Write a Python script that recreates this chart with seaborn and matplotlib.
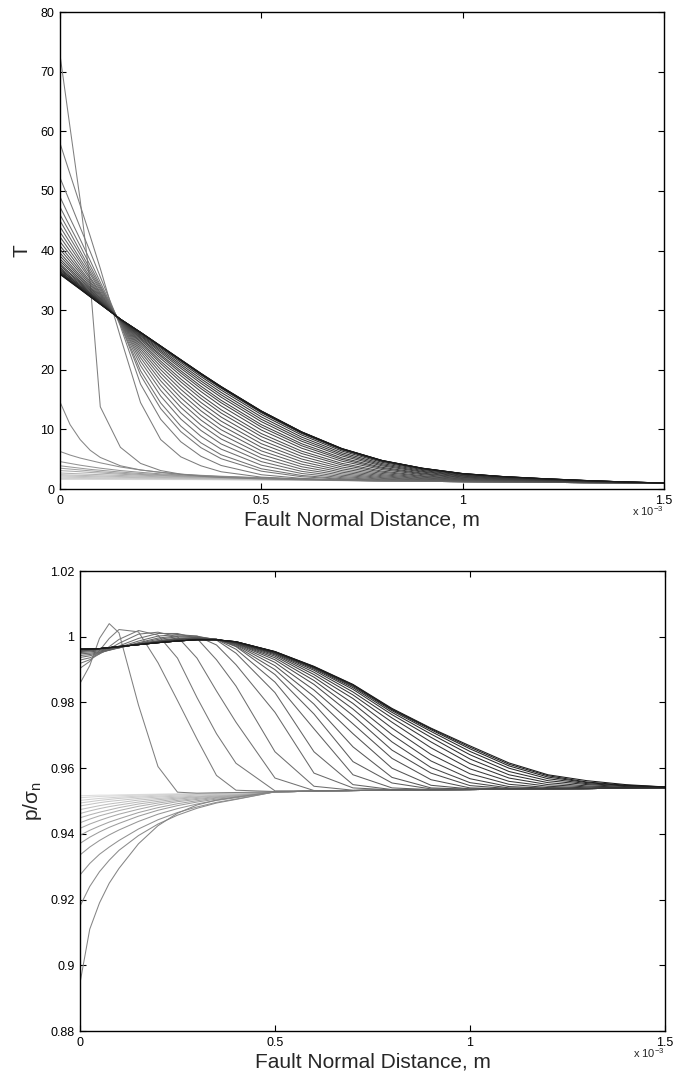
import matplotlib
matplotlib.use("Agg")
import matplotlib.pyplot as plt
import numpy as np
import pandas as pd
import seaborn as sns
from matplotlib.ticker import FuncFormatter

# fault normal distance, in units of 1e-3 m (shared by every profile)
dist = [0, 0.025, 0.05, 0.075, 0.1, 0.15, 0.2, 0.25, 0.3, 0.35, 0.4,
        0.5, 0.6, 0.7, 0.8, 0.9, 1.0, 1.1, 1.2, 1.3, 1.4, 1.5]

# temperature profiles before the runaway (lightest first)
temp_early = [
    [1.6, 1.6, 1.6, 1.6, 1.6, 1.6, 1.59, 1.59, 1.58, 1.57, 1.56, 1.52, 1.47, 1.42, 1.36, 1.3, 1.24, 1.18, 1.13, 1.08, 1.04, 1.0],
    [1.7, 1.7, 1.69, 1.69, 1.68, 1.67, 1.65, 1.64, 1.62, 1.6, 1.58, 1.54, 1.48, 1.42, 1.36, 1.3, 1.24, 1.18, 1.13, 1.08, 1.04, 1.0],
    [1.8, 1.79, 1.78, 1.77, 1.76, 1.73, 1.71, 1.68, 1.66, 1.63, 1.61, 1.56, 1.49, 1.42, 1.36, 1.3, 1.24, 1.18, 1.13, 1.08, 1.04, 1.0],
    [2.0, 1.97, 1.94, 1.91, 1.88, 1.84, 1.8, 1.76, 1.72, 1.68, 1.65, 1.59, 1.51, 1.43, 1.36, 1.3, 1.24, 1.18, 1.13, 1.08, 1.04, 1.0],
    [2.2, 2.16, 2.12, 2.08, 2.04, 1.97, 1.91, 1.86, 1.8, 1.75, 1.7, 1.63, 1.53, 1.44, 1.36, 1.3, 1.24, 1.18, 1.13, 1.08, 1.04, 1.0],
    [2.4, 2.35, 2.3, 2.25, 2.2, 2.1, 2.02, 1.95, 1.88, 1.82, 1.76, 1.67, 1.55, 1.45, 1.37, 1.3, 1.24, 1.18, 1.13, 1.08, 1.04, 1.0],
    [2.7, 2.62, 2.55, 2.48, 2.41, 2.28, 2.16, 2.06, 1.98, 1.9, 1.83, 1.72, 1.58, 1.46, 1.37, 1.3, 1.24, 1.18, 1.13, 1.08, 1.04, 1.0],
    [3.1, 3.0, 2.9, 2.78, 2.68, 2.48, 2.32, 2.2, 2.08, 1.98, 1.9, 1.76, 1.6, 1.47, 1.37, 1.3, 1.24, 1.18, 1.13, 1.08, 1.04, 1.0],
    [3.5, 3.35, 3.2, 3.05, 2.9, 2.65, 2.45, 2.3, 2.15, 2.05, 1.95, 1.8, 1.62, 1.48, 1.37, 1.3, 1.24, 1.18, 1.13, 1.08, 1.04, 1.0],
    [3.9, 3.7, 3.5, 3.3, 3.15, 2.85, 2.6, 2.4, 2.25, 2.1, 2.0, 1.82, 1.64, 1.49, 1.37, 1.3, 1.24, 1.18, 1.13, 1.08, 1.04, 1.0],
    [4.6, 4.3, 4.0, 3.75, 3.5, 3.1, 2.8, 2.55, 2.35, 2.2, 2.05, 1.85, 1.66, 1.5, 1.37, 1.3, 1.24, 1.18, 1.13, 1.08, 1.04, 1.0],
    [6.3, 5.7, 5.2, 4.8, 4.4, 3.7, 3.2, 2.8, 2.5, 2.3, 2.15, 1.9, 1.68, 1.51, 1.38, 1.3, 1.24, 1.18, 1.13, 1.08, 1.04, 1.0],
    [14.6, 10.8, 8.3, 6.5, 5.3, 3.9, 3.2, 2.8, 2.45, 2.25, 2.08, 1.85, 1.66, 1.5, 1.37, 1.3, 1.24, 1.18, 1.13, 1.08, 1.04, 1.0],
]

# temperature profiles from the peak onwards (darkening with time)
temp_late = [
    [72.8, 60.6, 48.5, 34.5, 13.8, 7.0, 4.3, 3.1, 2.5, 2.15, 1.95, 1.7, 1.56, 1.45, 1.37, 1.3, 1.24, 1.18, 1.13, 1.08, 1.04, 1.0],
    [58.0, 52.8, 47.6, 42.4, 37.0, 25.5, 14.5, 8.3, 5.4, 3.9, 2.9, 2.0, 1.68, 1.5, 1.39, 1.3, 1.24, 1.18, 1.13, 1.08, 1.04, 1.0],
    [52.2, 48.1, 43.9, 39.8, 35.6, 27.3, 17.6, 11.7, 7.93, 5.5, 3.96, 2.4, 1.79, 1.52, 1.4, 1.3, 1.24, 1.18, 1.13, 1.08, 1.04, 1.0],
    [49.0, 45.4, 41.9, 38.3, 34.7, 27.6, 19.1, 13.5, 9.63, 6.94, 5.09, 3.0, 2.07, 1.64, 1.44, 1.33, 1.25, 1.18, 1.13, 1.08, 1.04, 1.0],
    [47.3, 44.0, 40.8, 37.5, 34.2, 27.7, 19.84, 14.44, 10.55, 7.75, 5.76, 3.4, 2.28, 1.74, 1.48, 1.34, 1.26, 1.18, 1.13, 1.08, 1.04, 1.0],
    [46.0, 43.0, 39.9, 36.9, 33.9, 27.8, 20.71, 15.59, 11.74, 8.84, 6.7, 4.0, 2.61, 1.91, 1.56, 1.38, 1.27, 1.19, 1.13, 1.08, 1.04, 1.0],
    [45.0, 42.1, 39.3, 36.4, 33.6, 27.9, 21.42, 16.56, 12.77, 9.83, 7.57, 4.6, 2.97, 2.1, 1.66, 1.43, 1.3, 1.21, 1.14, 1.08, 1.04, 1.0],
    [44.0, 41.3, 38.6, 36.0, 33.3, 27.9, 22.02, 17.4, 13.7, 10.73, 8.4, 5.2, 3.35, 2.32, 1.78, 1.49, 1.32, 1.22, 1.15, 1.08, 1.04, 1.0],
    [43.1, 40.6, 38.1, 35.5, 33.0, 28.0, 22.54, 18.15, 14.54, 11.57, 9.19, 5.8, 3.75, 2.56, 1.91, 1.56, 1.36, 1.24, 1.16, 1.09, 1.04, 1.0],
    [42.3, 39.9, 37.55, 35.2, 32.8, 28.05, 23.01, 18.82, 15.31, 12.36, 9.95, 6.4, 4.17, 2.82, 2.06, 1.65, 1.41, 1.27, 1.18, 1.1, 1.05, 1.0],
    [41.5, 39.3, 37.0, 34.8, 32.6, 28.1, 23.42, 19.44, 16.04, 13.12, 10.68, 7.0, 4.6, 3.09, 2.23, 1.75, 1.46, 1.3, 1.2, 1.11, 1.05, 1.0],
    [40.8, 38.7, 36.6, 34.5, 32.4, 28.15, 23.8, 20.02, 16.72, 13.84, 11.39, 7.6, 5.04, 3.39, 2.41, 1.86, 1.53, 1.34, 1.22, 1.13, 1.06, 1.0],
    [40.2, 38.2, 36.2, 34.2, 32.2, 28.2, 24.15, 20.55, 17.36, 14.52, 12.08, 8.2, 5.49, 3.7, 2.61, 1.98, 1.6, 1.39, 1.25, 1.14, 1.06, 1.0],
    [39.6, 37.7, 35.8, 33.9, 32.0, 28.25, 24.48, 21.05, 17.97, 15.19, 12.75, 8.8, 5.96, 4.03, 2.82, 2.12, 1.68, 1.44, 1.29, 1.16, 1.07, 1.0],
    [39.1, 37.3, 35.5, 33.7, 31.9, 28.3, 24.73, 21.45, 18.46, 15.72, 13.3, 9.3, 6.36, 4.31, 3.01, 2.24, 1.76, 1.5, 1.32, 1.18, 1.08, 1.0],
    [38.6, 36.9, 35.2, 33.45, 31.75, 28.3, 25.01, 21.9, 19.02, 16.35, 13.95, 9.9, 6.85, 4.67, 3.26, 2.41, 1.86, 1.57, 1.37, 1.21, 1.09, 1.0],
    [38.2, 36.6, 34.9, 33.3, 31.6, 28.35, 25.24, 22.27, 19.47, 16.85, 14.48, 10.4, 7.26, 4.97, 3.47, 2.55, 1.96, 1.63, 1.41, 1.24, 1.1, 1.0],
    [37.8, 36.2, 34.7, 33.1, 31.5, 28.4, 25.41, 22.54, 19.83, 17.25, 14.89, 10.8, 7.6, 5.23, 3.65, 2.67, 2.04, 1.69, 1.45, 1.26, 1.11, 1.0],
    [37.5, 36.0, 34.5, 32.9, 31.4, 28.4, 25.62, 22.88, 20.25, 17.73, 15.41, 11.3, 8.02, 5.55, 3.88, 2.84, 2.15, 1.76, 1.51, 1.29, 1.13, 1.01],
    [37.2, 35.7, 34.3, 32.8, 31.35, 28.4, 25.78, 23.14, 20.59, 18.12, 15.81, 11.7, 8.36, 5.82, 4.07, 2.97, 2.24, 1.83, 1.55, 1.32, 1.14, 1.01],
    [36.95, 35.5, 34.1, 32.7, 31.3, 28.45, 25.94, 23.39, 20.91, 18.49, 16.21, 12.1, 8.71, 6.09, 4.27, 3.12, 2.33, 1.9, 1.6, 1.36, 1.16, 1.01],
    [36.75, 35.4, 34.0, 32.6, 31.2, 28.45, 26.08, 23.64, 21.23, 18.86, 16.61, 12.5, 9.07, 6.37, 4.48, 3.26, 2.44, 1.98, 1.66, 1.39, 1.17, 1.02],
    [36.55, 35.2, 33.85, 32.5, 31.15, 28.45, 26.19, 23.82, 21.47, 19.13, 16.91, 12.8, 9.33, 6.58, 4.64, 3.38, 2.52, 2.04, 1.7, 1.42, 1.19, 1.02],
    [36.4, 35.1, 33.75, 32.45, 31.1, 28.47, 26.23, 23.89, 21.56, 19.24, 17.03, 12.92, 9.44, 6.67, 4.7, 3.43, 2.55, 2.06, 1.72, 1.43, 1.19, 1.02],
    [36.25, 34.95, 33.65, 32.35, 31.05, 28.48, 26.26, 23.94, 21.62, 19.31, 17.1, 13.0, 9.51, 6.72, 4.74, 3.46, 2.57, 2.08, 1.73, 1.44, 1.2, 1.02],
    [36.15, 34.85, 33.6, 32.3, 31.05, 28.49, 26.28, 23.97, 21.66, 19.36, 17.15, 13.05, 9.56, 6.76, 4.77, 3.48, 2.59, 2.09, 1.74, 1.45, 1.2, 1.02],
    [36.05, 34.8, 33.55, 32.25, 31.0, 28.5, 26.29, 23.99, 21.69, 19.39, 17.18, 13.08, 9.58, 6.78, 4.79, 3.49, 2.6, 2.1, 1.75, 1.45, 1.2, 1.02],
    [36.0, 34.75, 33.5, 32.25, 31.0, 28.5, 26.3, 24.0, 21.7, 19.4, 17.2, 13.1, 9.6, 6.8, 4.8, 3.5, 2.6, 2.1, 1.75, 1.45, 1.2, 1.02],
]

# normalised pore pressure p/sigma_n before the runaway (lightest first)
pres_early = [
    [0.9516, 0.9517, 0.9518, 0.9518, 0.9519, 0.952, 0.9521, 0.9522, 0.9523, 0.9524, 0.9525, 0.9528, 0.953, 0.9532, 0.9533, 0.9534, 0.9535, 0.9536, 0.9537, 0.9538, 0.9539, 0.954],
    [0.951, 0.9512, 0.9514, 0.9515, 0.9516, 0.9518, 0.952, 0.9521, 0.9522, 0.9524, 0.9525, 0.9528, 0.953, 0.9532, 0.9533, 0.9534, 0.9535, 0.9536, 0.9537, 0.9538, 0.9539, 0.954],
    [0.9502, 0.9505, 0.9508, 0.951, 0.9512, 0.9515, 0.9518, 0.952, 0.9521, 0.9523, 0.9525, 0.9528, 0.953, 0.9532, 0.9533, 0.9534, 0.9535, 0.9536, 0.9537, 0.9538, 0.9539, 0.954],
    [0.9494, 0.9498, 0.9502, 0.9505, 0.9508, 0.9512, 0.9515, 0.9518, 0.952, 0.9522, 0.9524, 0.9528, 0.953, 0.9532, 0.9533, 0.9534, 0.9535, 0.9536, 0.9537, 0.9538, 0.9539, 0.954],
    [0.9485, 0.949, 0.9495, 0.9499, 0.9502, 0.9508, 0.9512, 0.9515, 0.9518, 0.952, 0.9522, 0.9528, 0.953, 0.9532, 0.9533, 0.9534, 0.9535, 0.9536, 0.9537, 0.9538, 0.9539, 0.954],
    [0.9474, 0.948, 0.9486, 0.9491, 0.9495, 0.9503, 0.9508, 0.9512, 0.9515, 0.9518, 0.952, 0.9528, 0.953, 0.9532, 0.9533, 0.9534, 0.9535, 0.9536, 0.9537, 0.9538, 0.9539, 0.954],
    [0.9462, 0.947, 0.9477, 0.9483, 0.9488, 0.9497, 0.9504, 0.9509, 0.9513, 0.9516, 0.9519, 0.9528, 0.953, 0.9532, 0.9533, 0.9534, 0.9535, 0.9536, 0.9537, 0.9538, 0.9539, 0.954],
    [0.9449, 0.9458, 0.9466, 0.9473, 0.948, 0.9491, 0.9499, 0.9506, 0.9511, 0.9515, 0.9518, 0.9528, 0.953, 0.9532, 0.9533, 0.9534, 0.9535, 0.9536, 0.9537, 0.9538, 0.9539, 0.954],
    [0.9434, 0.9445, 0.9455, 0.9463, 0.9471, 0.9484, 0.9494, 0.9502, 0.9508, 0.9513, 0.9517, 0.9528, 0.953, 0.9532, 0.9533, 0.9534, 0.9535, 0.9536, 0.9537, 0.9538, 0.9539, 0.954],
    [0.9417, 0.943, 0.9441, 0.9451, 0.946, 0.9475, 0.9488, 0.9498, 0.9505, 0.9511, 0.9516, 0.9528, 0.953, 0.9532, 0.9533, 0.9534, 0.9535, 0.9536, 0.9537, 0.9538, 0.9539, 0.954],
    [0.9396, 0.9411, 0.9424, 0.9436, 0.9446, 0.9465, 0.948, 0.9492, 0.9501, 0.9509, 0.9514, 0.9528, 0.953, 0.9532, 0.9533, 0.9534, 0.9535, 0.9536, 0.9537, 0.9538, 0.9539, 0.954],
    [0.9371, 0.939, 0.9406, 0.942, 0.9432, 0.9454, 0.9472, 0.9486, 0.9497, 0.9506, 0.9512, 0.9528, 0.953, 0.9532, 0.9533, 0.9534, 0.9535, 0.9536, 0.9537, 0.9538, 0.9539, 0.954],
    [0.9336, 0.936, 0.938, 0.9397, 0.9412, 0.9438, 0.946, 0.9477, 0.9491, 0.9502, 0.951, 0.9528, 0.953, 0.9532, 0.9533, 0.9534, 0.9535, 0.9536, 0.9537, 0.9538, 0.9539, 0.954],
    [0.9275, 0.931, 0.9338, 0.936, 0.938, 0.9415, 0.9443, 0.9465, 0.9482, 0.9496, 0.9506, 0.9528, 0.953, 0.9532, 0.9533, 0.9534, 0.9535, 0.9536, 0.9537, 0.9538, 0.9539, 0.954],
    [0.918, 0.924, 0.9285, 0.932, 0.935, 0.9395, 0.943, 0.9457, 0.9478, 0.9494, 0.9505, 0.9528, 0.953, 0.9532, 0.9533, 0.9534, 0.9535, 0.9536, 0.9537, 0.9538, 0.9539, 0.954],
    [0.8946, 0.911, 0.919, 0.925, 0.9295, 0.937, 0.9425, 0.9463, 0.9488, 0.9503, 0.9512, 0.9528, 0.953, 0.9532, 0.9533, 0.9534, 0.9535, 0.9536, 0.9537, 0.9538, 0.9539, 0.954],
]

# p/sigma_n from the pressure jump onwards (darkening with time)
pres_late = [
    [0.9858, 0.9912, 0.9995, 1.004, 1.0012, 0.9792, 0.9605, 0.9527, 0.9524, 0.9525, 0.9526, 0.9528, 0.953, 0.9532, 0.9533, 0.9534, 0.9535, 0.9536, 0.9537, 0.9538, 0.9539, 0.954],
    [0.9904, 0.9925, 0.9958, 0.9995, 1.0022, 1.0015, 0.9921, 0.9806, 0.9689, 0.9578, 0.9533, 0.9529, 0.953, 0.9532, 0.9533, 0.9534, 0.9535, 0.9536, 0.9537, 0.9538, 0.9539, 0.954],
    [0.9919, 0.993, 0.9948, 0.997, 0.9992, 1.0019, 1.0005, 0.9935, 0.9815, 0.9705, 0.9615, 0.9531, 0.9531, 0.9532, 0.9533, 0.9534, 0.9535, 0.9536, 0.9537, 0.9538, 0.9539, 0.954],
    [0.9929, 0.9936, 0.9948, 0.9963, 0.998, 1.0008, 1.0014, 1.0, 0.9935, 0.9835, 0.974, 0.957, 0.9532, 0.9532, 0.9533, 0.9534, 0.9535, 0.9536, 0.9537, 0.9538, 0.9539, 0.954],
    [0.9937, 0.9942, 0.995, 0.996, 0.9972, 0.9995, 1.001, 1.001, 0.9995, 0.993, 0.985, 0.965, 0.9545, 0.9533, 0.9533, 0.9534, 0.9535, 0.9536, 0.9537, 0.9538, 0.9539, 0.954],
    [0.9943, 0.9946, 0.9952, 0.9959, 0.9968, 0.9987, 1.0002, 1.0007, 1.0002, 0.9975, 0.9915, 0.977, 0.9585, 0.954, 0.9534, 0.9534, 0.9535, 0.9536, 0.9537, 0.9538, 0.9539, 0.954],
    [0.9948, 0.995, 0.9954, 0.9959, 0.9966, 0.9982, 0.9996, 1.0003, 1.0002, 0.999, 0.995, 0.983, 0.965, 0.955, 0.9535, 0.9534, 0.9535, 0.9536, 0.9537, 0.9538, 0.9539, 0.954],
    [0.9952, 0.9954, 0.9957, 0.9961, 0.9966, 0.998, 0.9992, 1.0, 1.0, 0.9992, 0.9962, 0.9862, 0.972, 0.958, 0.954, 0.9535, 0.9535, 0.9536, 0.9537, 0.9538, 0.9539, 0.954],
    [0.9955, 0.9957, 0.996, 0.9963, 0.9967, 0.9978, 0.9988, 0.9996, 0.9998, 0.9993, 0.997, 0.9885, 0.9765, 0.962, 0.9555, 0.9537, 0.9536, 0.9536, 0.9537, 0.9538, 0.9539, 0.954],
    [0.9957, 0.9959, 0.9962, 0.9965, 0.9968, 0.9978, 0.9987, 0.9994, 0.9996, 0.9992, 0.9972, 0.99, 0.9795, 0.9665, 0.9572, 0.954, 0.9536, 0.9536, 0.9537, 0.9538, 0.9539, 0.954],
    [0.9959, 0.996, 0.9963, 0.9966, 0.9969, 0.9978, 0.9986, 0.9992, 0.9995, 0.9992, 0.9975, 0.9912, 0.9818, 0.9705, 0.96, 0.9548, 0.9537, 0.9536, 0.9537, 0.9538, 0.9539, 0.954],
    [0.996, 0.9961, 0.9963, 0.9966, 0.9969, 0.9977, 0.9985, 0.9991, 0.9994, 0.9992, 0.9977, 0.9922, 0.9838, 0.9735, 0.963, 0.9565, 0.954, 0.9537, 0.9537, 0.9538, 0.9539, 0.954],
    [0.9961, 0.9962, 0.9964, 0.9966, 0.9969, 0.9977, 0.9984, 0.999, 0.9993, 0.9992, 0.9979, 0.993, 0.9855, 0.976, 0.9655, 0.9585, 0.9547, 0.9538, 0.9537, 0.9538, 0.9539, 0.954],
    [0.9961, 0.9962, 0.9964, 0.9966, 0.9969, 0.9977, 0.9984, 0.999, 0.9993, 0.9992, 0.998, 0.9936, 0.9867, 0.978, 0.968, 0.9602, 0.9556, 0.954, 0.9538, 0.9538, 0.9539, 0.954],
    [0.9961, 0.9962, 0.9964, 0.9966, 0.9969, 0.9977, 0.9983, 0.9989, 0.9992, 0.9992, 0.9981, 0.9941, 0.9877, 0.9797, 0.9702, 0.9622, 0.9568, 0.9544, 0.9539, 0.9538, 0.9539, 0.954],
    [0.9962, 0.9963, 0.9964, 0.9967, 0.997, 0.9976, 0.9983, 0.9988, 0.9991, 0.9991, 0.9982, 0.9945, 0.9885, 0.9812, 0.9722, 0.9642, 0.9583, 0.9551, 0.9541, 0.9539, 0.9539, 0.954],
    [0.9962, 0.9963, 0.9964, 0.9967, 0.997, 0.9976, 0.9982, 0.9987, 0.9991, 0.9991, 0.9983, 0.9948, 0.9892, 0.9823, 0.974, 0.9662, 0.9598, 0.956, 0.9545, 0.954, 0.9539, 0.954],
    [0.9962, 0.9963, 0.9964, 0.9967, 0.997, 0.9976, 0.9982, 0.9987, 0.9991, 0.9991, 0.9983, 0.995, 0.9898, 0.9832, 0.9753, 0.968, 0.9614, 0.957, 0.955, 0.9543, 0.9541, 0.9541],
    [0.9962, 0.9963, 0.9964, 0.9967, 0.997, 0.9976, 0.9982, 0.9987, 0.9991, 0.9991, 0.9984, 0.9952, 0.9902, 0.984, 0.9763, 0.9694, 0.9628, 0.958, 0.9556, 0.9546, 0.9542, 0.9541],
    [0.9962, 0.9963, 0.9964, 0.9967, 0.997, 0.9976, 0.9982, 0.9987, 0.9991, 0.9991, 0.9984, 0.9953, 0.9905, 0.9845, 0.977, 0.9704, 0.9641, 0.959, 0.9562, 0.955, 0.9544, 0.9542],
    [0.9962, 0.9963, 0.9964, 0.9967, 0.997, 0.9976, 0.9982, 0.9987, 0.9991, 0.9991, 0.9985, 0.9954, 0.9907, 0.9849, 0.9775, 0.9712, 0.9651, 0.96, 0.9568, 0.9553, 0.9546, 0.9542],
    [0.9962, 0.9963, 0.9964, 0.9967, 0.997, 0.9976, 0.9982, 0.9987, 0.9991, 0.9991, 0.9985, 0.9954, 0.9908, 0.9852, 0.9778, 0.9717, 0.9659, 0.9607, 0.9573, 0.9556, 0.9547, 0.9543],
    [0.9962, 0.9963, 0.9964, 0.9967, 0.997, 0.9976, 0.9982, 0.9987, 0.9991, 0.9991, 0.9985, 0.9955, 0.9909, 0.9854, 0.978, 0.972, 0.9664, 0.9612, 0.9577, 0.9558, 0.9548, 0.9543],
    [0.9962, 0.9963, 0.9964, 0.9967, 0.997, 0.9976, 0.9982, 0.9987, 0.9991, 0.9991, 0.9985, 0.9955, 0.991, 0.9855, 0.9782, 0.9722, 0.9668, 0.9616, 0.958, 0.9562, 0.955, 0.9543],
]

x_ticks = [0, 0.5, 1, 1.5]
t_ticks = [0, 10, 20, 30, 40, 50, 60, 70, 80]
p_ticks = [0.88, 0.9, 0.92, 0.94, 0.96, 0.98, 1.0, 1.02]


def to_long(early, late, col):
    rows = []
    for i, prof in enumerate(early + late):
        assert len(prof) == len(dist), (col, i, len(prof))
        for x, v in zip(dist, prof):
            rows.append({'x': x, col: v, 'curve': f'c{i:02d}'})
    return pd.DataFrame(rows)


def gray_palette(n_early, n_late):
    # light grey for the early profiles, going to near black for the last ones
    levels = list(np.linspace(0.87, 0.52, n_early)) + list(np.linspace(0.5, 0.1, n_late))
    return {f'c{i:02d}': (g, g, g) for i, g in enumerate(levels)}


def style_axes(ax, yticks, ylim):
    ax.set_xlim(0, 1.5)
    ax.set_ylim(*ylim)
    ax.set_xticks(x_ticks)
    ax.set_yticks(yticks)
    fmt = FuncFormatter(lambda v, pos: f'{v:g}')
    ax.xaxis.set_major_formatter(fmt)
    ax.yaxis.set_major_formatter(fmt)
    ax.tick_params(direction='in', length=4, width=0.8, top=True, right=True,
                   labelsize=9, colors='black', pad=4)
    for sp in ax.spines.values():
        sp.set_visible(True)
        sp.set_linewidth(1.0)
        sp.set_color('black')
    ax.set_xlabel('Fault Normal Distance, m', fontsize=15, labelpad=3)
    ax.annotate(r'x $10^{-3}$', xy=(1.0, 0.0), xycoords='axes fraction',
                xytext=(0, -11), textcoords='offset points',
                ha='right', va='top', fontsize=8)


sns.set_theme(style='ticks')
plt.rcParams['font.family'] = ['Liberation Sans', 'DejaVu Sans']
plt.rcParams['mathtext.fontset'] = 'custom'
plt.rcParams['mathtext.rm'] = 'Liberation Sans'
plt.rcParams['mathtext.it'] = 'Liberation Sans:italic'

df_t = to_long(temp_early, temp_late, 'T')
df_p = to_long(pres_early, pres_late, 'p')

fig = plt.figure(figsize=(6.89, 10.72), dpi=100)
ax1 = fig.add_axes([0.0871, 0.5438, 0.8766, 0.4450])
ax2 = fig.add_axes([0.1161, 0.0382, 0.8490, 0.4291])

sns.lineplot(data=df_t, x='x', y='T', hue='curve',
             palette=gray_palette(len(temp_early), len(temp_late)),
             estimator=None, sort=False, legend=False, linewidth=0.75, ax=ax1)
sns.lineplot(data=df_p, x='x', y='p', hue='curve',
             palette=gray_palette(len(pres_early), len(pres_late)),
             estimator=None, sort=False, legend=False, linewidth=0.75, ax=ax2)

style_axes(ax1, t_ticks, (0, 80))
style_axes(ax2, p_ticks, (0.88, 1.02))

ax1.set_ylabel('T', fontsize=15)
ax1.yaxis.set_label_coords(-0.047, 0.5)
ax2.set_ylabel('p/σ$_\\mathrm{n}$', fontsize=15)
ax2.yaxis.set_label_coords(-0.062, 0.5)

fig.savefig('out.png', dpi=100)
